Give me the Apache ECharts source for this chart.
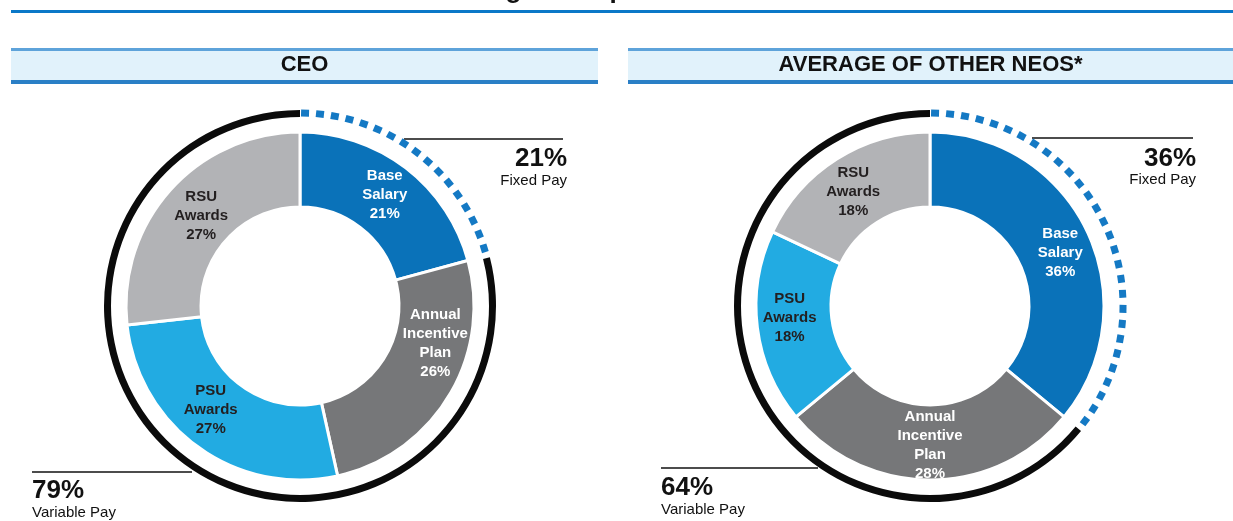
<!DOCTYPE html>
<html>
<head>
<meta charset="utf-8">
<script src="https://cdn.jsdelivr.net/npm/echarts@6/dist/echarts.min.js"></script>
<style>
  html, body { margin: 0; padding: 0; background: #fff; }
  #chart { width: 1233px; height: 521px; }
</style>
</head>
<body>
<div id="chart"></div>
<script>
// Pay components, in clockwise order from 12 o'clock
const componentLabels = ['Base\nSalary', 'Annual\nIncentive\nPlan', 'PSU\nAwards', 'RSU\nAwards'];
const ceoMix = [21, 26, 27, 27];
const neoMix = [36, 28, 18, 18];
// Fixed vs. variable share of total pay
const ceoSplit = [21, 79];
const neoSplit = [36, 64];
const splitNames = ['Fixed Pay', 'Variable Pay'];
const panelTitles = ['CEO', 'AVERAGE OF OTHER NEOS*'];
const chartTitle = 'Target Compensation Mix';

const sliceColors = ['#0a72b9', '#767779', '#22abe2', '#b2b3b6'];
const labelColors = ['#ffffff', '#ffffff', '#231f20', '#231f20'];
const FONT = "'Liberation Sans', Arial, Helvetica, sans-serif";

const CY = 306;
const CX = [300, 930];

function donut(mix, cx, offsets) {
  return {
    type: 'pie',
    center: [cx, CY],
    radius: [99, 174],
    startAngle: 90,
    clockwise: true,
    silent: true,
    avoidLabelOverlap: false,
    itemStyle: { borderColor: '#ffffff', borderWidth: 3 },
    label: {
      show: true,
      position: 'inside',
      formatter: p => p.name + '\n' + p.value + '%',
      fontFamily: FONT,
      fontWeight: 'bold',
      fontSize: 15,
      lineHeight: 19,
      align: 'center'
    },
    labelLine: { show: false },
    labelLayout: p => ({ dx: offsets[p.dataIndex][0], dy: offsets[p.dataIndex][1] }),
    emphasis: { disabled: true },
    data: mix.map((v, i) => ({
      name: componentLabels[i],
      value: v,
      itemStyle: { color: sliceColors[i] },
      label: { color: labelColors[i] }
    }))
  };
}

// Solid black arc around the variable-pay share
function variableRing(split, cx) {
  return {
    type: 'pie',
    center: [cx, CY],
    radius: [189, 196],
    startAngle: 90,
    clockwise: true,
    silent: true,
    label: { show: false },
    labelLine: { show: false },
    emphasis: { disabled: true },
    data: [
      { value: split[0], itemStyle: { color: 'rgba(0,0,0,0)' } },
      { value: split[1], itemStyle: { color: '#0b0b0b' } }
    ]
  };
}

// Dotted blue arc around the fixed-pay share, drawn as gauge ticks
function fixedDots(split, cx) {
  const total = split[0] + split[1];
  const start = 90 - 1.5;
  const end = 90 - (split[0] / total) * 360 + 3;
  const arcLen = (start - end) * Math.PI / 180 * 193;
  const n = Math.round(arcLen / 15);
  return {
    type: 'gauge',
    center: [cx, CY],
    radius: 196.5,
    startAngle: start,
    endAngle: end,
    min: 0,
    max: split[0],
    splitNumber: 1,
    silent: true,
    axisLine: { show: false, lineStyle: { width: 0 } },
    splitLine: { show: false },
    axisLabel: { show: false },
    pointer: { show: false },
    progress: { show: false },
    anchor: { show: false },
    title: { show: false },
    detail: { show: false },
    axisTick: {
      show: true,
      splitNumber: n,
      length: 7,
      distance: 0,
      lineStyle: { color: '#1479c4', width: 8, cap: 'butt' }
    },
    data: [{ value: 0 }]
  };
}

function text(str, x, y, font, align, color) {
  return {
    type: 'text',
    silent: true,
    style: {
      text: str, x: x, y: y, font: font, fill: color || '#111111',
      textAlign: align, align: align,
      textVerticalAlign: 'middle', verticalAlign: 'middle'
    }
  };
}

function line(x1, y1, x2, y2, w, color) {
  return {
    type: 'line',
    silent: true,
    shape: { x1: x1, y1: y1, x2: x2, y2: y2 },
    style: { stroke: color || '#111111', lineWidth: w }
  };
}

function headerBar(x, w, title) {
  return [
    { type: 'rect', silent: true, shape: { x: x, y: 48, width: w, height: 36 }, style: { fill: '#e1f2fb' } },
    { type: 'rect', silent: true, shape: { x: x, y: 48, width: w, height: 3 }, style: { fill: '#5ea3da' } },
    { type: 'rect', silent: true, shape: { x: x, y: 80, width: w, height: 4 }, style: { fill: '#2a7fc6' } },
    text(title, x + w / 2, 65, 'bold 22px ' + FONT, 'center', '#111111')
  ];
}

const bigFont = 'bold 26px ' + FONT;
const smallFont = '15px ' + FONT;

const graphics = [
  text(chartTitle, 625, -9, 'bold 26px ' + FONT, 'center', '#111111'),
  { type: 'rect', silent: true, shape: { x: 11, y: 10, width: 1222, height: 3 }, style: { fill: '#0a78c8' } },
  ...headerBar(11, 587, panelTitles[0]),
  ...headerBar(628, 605, panelTitles[1]),
  // CEO call-outs
  line(404, 139, 563, 139, 1.5),
  text(ceoSplit[0] + '%', 567, 159, bigFont, 'right'),
  text(splitNames[0], 567, 181, smallFont, 'right'),
  line(32, 472, 192, 472, 1.5),
  text(ceoSplit[1] + '%', 32, 491, bigFont, 'left'),
  text(splitNames[1], 32, 513, smallFont, 'left'),
  // NEO call-outs
  line(1032, 138, 1193, 138, 1.5),
  text(neoSplit[0] + '%', 1196, 159, bigFont, 'right'),
  text(splitNames[0], 1196, 180, smallFont, 'right'),
  line(661, 468, 818, 468, 1.5),
  text(neoSplit[1] + '%', 661, 488, bigFont, 'left'),
  text(splitNames[1], 661, 510, smallFont, 'left')
];

const chart = echarts.init(document.getElementById('chart'), null, { renderer: 'canvas' });
chart.setOption({
  animation: false,
  backgroundColor: '#ffffff',
  series: [
    donut(ceoMix, CX[0], [[0, 0], [16, -35], [-8, -10], [5, 3]]),
    variableRing(ceoSplit, CX[0]),
    fixedDots(ceoSplit, CX[0]),
    donut(neoMix, CX[1], [[4, 6], [0, 0], [-2, -6], [-2, 4]]),
    variableRing(neoSplit, CX[1]),
    fixedDots(neoSplit, CX[1])
  ],
  graphic: graphics
});
</script>
</body>
</html>
